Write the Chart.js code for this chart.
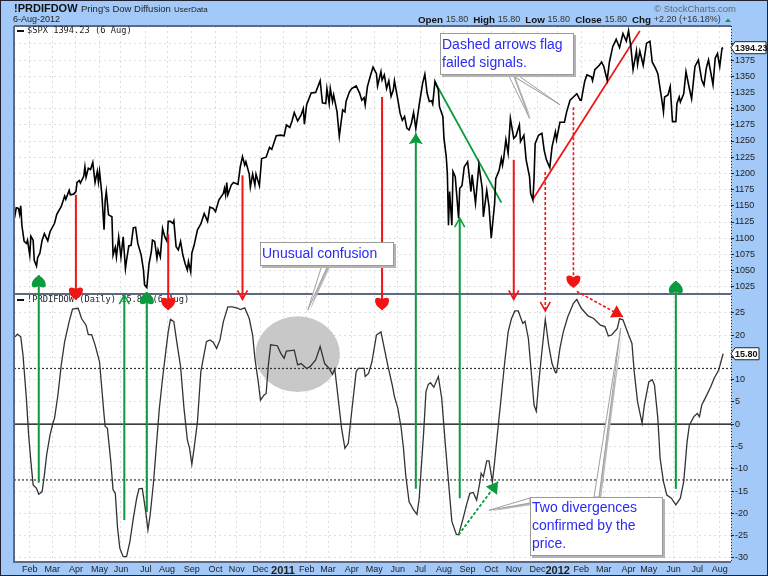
<!DOCTYPE html>
<html lang="en">
<head>
    <meta charset="UTF-8">
    <title>!PRDIFDOW Pring's Dow Diffusion</title>
    <script src="https://cdn.jsdelivr.net/npm/chart.js"></script>
    <style>
        html, body { margin: 0; padding: 0; background: #a3c9f8; }
        canvas { display: block; }
    </style>
</head>
<body>
    <canvas id="myChart" width="768" height="576"></canvas>
<script>
    // session numbers count trading days from the left edge of the chart
    var spxSessions = [0,1,2,4,5,6,7,9,11,12,14,15,17,18,20,21,23,25,27,30,32,36,38,42,45,46,49,50,53,55,56,58,59,62,63,64,66,68,70,72,74,75,76,78,80,81,82,84,87,88,90,91,93,95,97,99,100,102,104,106,108,110,113,115,116,118,120,122,123,125,127,128,130,132,134,136,137,139,141,142,144,146,148,150,152,154,155,157,158,160,
        163,166,169,172,174,177,179,182,186,187,188,189,190,193,195,199,201,203,205,206,209,210,212,214,215,218,220,224,227,229,233,237,240,242,245,247,249,252,255,257,258,260,264,268,272,274,277,278,280,281,283,284,287,289,292,294,295,298,300,304,307,309,311,312,314,317,
        319,322,323,326,327,329,331,333,335,337,338,341,343,345,347,349,351,353,355,357,360,363,365,367,369,371,372,374,377,378,381,382,384,385,386,387,389,390,392,395,396,398,400,403,406,407,410,413,416,417,420,422,424,427,428,431,433,434,435,437,439,441,444,446,449,450,453,455,458,459,461,
        462,463,466,469,471,473,476,478,481,482,485,489,491,494,497,500,503,504,507,509,513,514,516,520,522,524,527,529,532,535,538,541,544,546,548,550,553,554,556,559,562,565,567,570,572,576,577,578,581,583,585,588,589,591,592,595,597,600,602,605,608,611,613,615,617,621,623,625,627,629,630];
    var spxValues = [1146,1137,1147,1146,1137,1150,1120,1095,1092,1097,1074,1103,1097,1066,1057,1070,1077,1097,1107,1096,1110,1123,1137,1149,1165,1160,1174,1167,1168,1172,1186,1189,1185,1196,1210,1194,1208,1206,1217,1186,1203,1187,1203,1169,1113,1158,1172,1136,1133,1074,1086,1071,1102,1071,1102,1053,1066,1088,1089,1116,1117,1092,1074,1051,1028,1024,1061,1079,1097,1095,1069,1082,1071,1115,1102,1095,1126,1126,1123,1127,1087,1082,1095,1074,1061,1051,1064,1048,1077,1089,
        1113,1122,1138,1126,1148,1146,1141,1159,1169,1177,1167,1186,1167,1182,1186,1183,1210,1226,1213,1218,1199,1179,1199,1182,1199,1181,1223,1225,1240,1237,1258,1259,1258,1275,1271,1281,1294,1281,1290,1300,1276,1306,1324,1325,1343,1309,1308,1331,1308,1331,1311,1321,1295,1257,1298,1295,1311,1326,1331,1335,1324,1313,1317,1306,1334,1353,
        1364,1354,1335,1357,1344,1352,1331,1343,1319,1329,1343,1314,1293,1282,1288,1270,1267,1277,1294,1269,1306,1339,1353,1324,1311,1312,1307,1342,1329,1303,1288,1254,1226,1200,1120,1172,1120,1203,1195,1131,1177,1181,1210,1218,1172,1198,1154,1213,1177,1133,1174,1149,1100,1154,1192,1205,1223,1213,1223,1252,1231,1285,1254,1258,1275,1249,1259,1221,1195,1169,1159,
        1192,1246,1259,1262,1236,1221,1209,1241,1264,1252,1279,1279,1295,1313,1318,1323,1313,1313,1342,1352,1349,1343,1360,1367,1372,1365,1344,1372,1396,1407,1394,1416,1404,1420,1396,1360,1389,1368,1389,1367,1401,1404,1372,1362,1354,1308,1295,1318,1321,1334,1280,1280,1308,1318,1310,1323,1357,1331,1315,1365,1375,1344,1336,1362,1375,1337,1378,1385,1365,1393,1394];

    var diffSessions = [1,3,6,8,11,13,15,17,20,22,25,27,29,32,35,36,39,42,45,49,52,57,60,64,66,69,72,76,78,80,81,83,86,88,90,92,94,97,100,103,106,109,111,114,117,119,121,124,127,129,132,135,137,139,142,145,148,151,154,156,158,160,163,166,169,171,174,177,180,183,186,190,194,199,201,205,209,212,214,217,219,222,224,226,228,234,237,240,242,249,252,255,260,263,268,272,276,280,283,285,288,291,294,297,300,304,306,311,312,315,318,322,326,
        329,332,336,338,341,344,346,348,351,355,358,360,362,364,366,368,370,373,377,380,383,386,389,393,395,399,402,405,408,411,414,415,417,420,422,425,427,430,433,436,439,442,445,448,452,454,457,460,462,464,466,469,472,475,478,481,482,485,488,492,497,500,504,510,515,521,525,528,531,536,538,541,546,549,551,554,558,560,564,567,569,572,574,577,580,584,588,592,595,598,600,604,607,609,611,614,619,622,626,630];
    var diffValues = [19.6,20.2,19.6,15.5,5.8,-2.4,-8.4,-13.6,-14.4,-15.7,-15.1,-11.4,-6.9,-2.4,0.6,1.3,6.5,13.3,18.5,23,25.8,26,23.7,22.2,20.1,20.1,17.8,14,8,2.1,-0.5,-0.9,-8.4,-14.7,-15.5,-23.3,-27.8,-29.7,-29.7,-26.3,-21.1,-16.6,-14.5,-14.4,-19.6,-23.7,-20.3,-12.9,-3.2,3.2,10.3,16.6,20.7,23.5,23,17.8,12.9,3.6,-3.5,-5.4,-9,-5.4,0.6,11.8,15.9,18.5,18.9,18.4,17,18.9,23,26.3,26.3,26,25.7,26.1,23.7,20,14.8,9.5,5.4,6.5,6.9,13.3,17.8,17.6,15.9,14.8,16.4,16.6,13.3,13.6,12.5,12.9,14.4,17.4,13.6,12.5,11.2,12.4,5.8,-0.9,-5.4,-4.3,2.8,11.8,12.5,12.5,10.7,11.4,14,20,20.7,
        17,13.3,8.8,6.2,3.6,-0.9,-5.4,-11.4,-17.4,-19.2,-20.2,-16.6,-9.1,-1.6,7.3,8.9,9.3,8.3,10.7,5.8,-3.9,-12.9,-21.8,-24.7,-24.8,-21.1,-18.1,-15.5,-15.3,-17,-12.9,-11,-11.8,-8.2,-8.2,-12.9,-8.4,-0.9,6.5,14,20.7,23.7,25.4,25.4,22.6,23.1,19.2,10.3,4.3,2.9,8.8,16.3,23.5,17.8,13.6,11.6,11.6,17,20.7,24.1,27.1,28,26,24.3,23.7,22.2,21.9,19.8,20,21.5,23.7,23.4,20,18.1,11.8,5,0.2,4.3,9.5,10,8.8,1.3,-7.6,-12.9,-15.9,-16.6,-18.1,-16.6,-12.9,-3.9,-0.2,1.7,2.4,1.7,4.3,5.8,8.4,10.3,12.1,15.80];

    var monthSessions = [14,34,55,76,95,117,136,158,179,198,219,239,260,279,300,320,341,361,382,403,424,444,465,483,504,524,546,564,586,607,627];
    var monthLabels = ['Feb','Mar','Apr','May','Jun','Jul','Aug','Sep','Oct','Nov','Dec','2011','Feb','Mar','Apr','May','Jun','Jul','Aug','Sep','Oct','Nov','Dec','2012','Feb','Mar','Apr','May','Jun','Jul','Aug'];
    var priceTicks = [1025,1050,1075,1100,1125,1150,1175,1200,1225,1250,1275,1300,1325,1350,1375,1400];
    var diffTicks = [-30,-25,-20,-15,-10,-5,0,5,10,15,20,25];

    var thresholdHigh = 12.5;
    var thresholdLow = -12.5;

    // buy signals run from the diffusion panel up to the price panel
    var buySessions = [22,98,118,357,396,588];
    var buyFrom = [-13.1,-21.5,-19.7,-14.5,-16.6,-14.5];
    var buyTo = [1043,1012,1017,1262,1131,1034];
    // sell signals run from the price panel down to the diffusion panel
    var sellSessions = [55,137,203,327,444];
    var sellFrom = [1167,1106,1197,1318,1221];
    var sellTo = [27.9,25.6,28,25.6,28];
    var failedSessions = [472,497];
    var failedFrom = [1202,1302];
    var failedTo = [25.4,30.6];

    // trend lines on the price panel, divergence arrows
    var fallingSessions = [374,433];
    var fallingValues = [1341,1155];
    var risingSessions = [461,556];
    var risingValues = [1160,1420];

    var canvas = document.getElementById('myChart');

    function pts(xs, ys) {
        return xs.map(function (x, i) { return { x: x, y: ys[i] }; });
    }

    var GREEN = '#0b9a3c';
    var RED = '#f01414';
    var buyHeads = ['heart','open','heart','solid','open','heart'];
    var sellHeads = ['heart','heart','open','heart','open'];
    var failedHeads = ['open','heart'];

    function drawHead(ctx, x1, y1, x2, y2, color, head) {
        var a = Math.atan2(y2 - y1, x2 - x1);
        ctx.save();
        ctx.translate(x2, y2);
        ctx.rotate(a);
        ctx.setLineDash([]);
        ctx.strokeStyle = color;
        ctx.fillStyle = color;
        ctx.beginPath();
        if (head == 'open') {
            ctx.lineWidth = 1.6;
            ctx.moveTo(-9, -5);
            ctx.lineTo(0, 0);
            ctx.lineTo(-9, 5);
            ctx.stroke();
        } else if (head == 'solid') {
            ctx.moveTo(0, 0);
            ctx.lineTo(-11, -7);
            ctx.lineTo(-9, 0);
            ctx.lineTo(-11, 7);
            ctx.closePath();
            ctx.fill();
        } else if (head == 'wide') {
            ctx.moveTo(0, 0);
            ctx.lineTo(-11, -7);
            ctx.lineTo(-11, 7);
            ctx.closePath();
            ctx.fill();
        } else {
            ctx.moveTo(0, 0);
            ctx.bezierCurveTo(-3, -5, -6, -7, -10, -7);
            ctx.bezierCurveTo(-13, -7, -13, -2, -10, 0);
            ctx.bezierCurveTo(-13, 2, -13, 7, -10, 7);
            ctx.bezierCurveTo(-6, 7, -3, 5, 0, 0);
            ctx.fill();
        }
        ctx.restore();
    }

    function drawArrow(ctx, x1, y1, x2, y2, color, width, dashed, head) {
        ctx.save();
        ctx.strokeStyle = color;
        ctx.lineWidth = width;
        ctx.setLineDash(dashed ? [3, 2] : []);
        ctx.beginPath();
        ctx.moveTo(x1, y1);
        ctx.lineTo(x2, y2);
        ctx.stroke();
        ctx.restore();
        drawHead(ctx, x1, y1, x2, y2, color, head);
    }

    function drawCallout(ctx, box, lines, tails) {
        ctx.save();
        tails.forEach(function (t) {
            ctx.beginPath();
            ctx.moveTo(t.a[0] + 2, t.a[1] + 2);
            ctx.lineTo(t.tip[0] + 2, t.tip[1] + 1);
            ctx.lineTo(t.b[0] + 2, t.b[1] + 2);
            ctx.closePath();
            ctx.fillStyle = '#b8b8b8';
            ctx.fill();
            ctx.beginPath();
            ctx.moveTo(t.a[0], t.a[1]);
            ctx.lineTo(t.tip[0], t.tip[1]);
            ctx.lineTo(t.b[0], t.b[1]);
            ctx.closePath();
            ctx.fillStyle = '#ffffff';
            ctx.fill();
            ctx.strokeStyle = '#a0a0a0';
            ctx.lineWidth = 1;
            ctx.stroke();
        });
        ctx.fillStyle = '#b4b4b4';
        ctx.fillRect(box.x + 2, box.y + 2, box.w + 1, box.h + 1);
        ctx.fillStyle = '#ffffff';
        ctx.fillRect(box.x, box.y, box.w, box.h);
        ctx.strokeStyle = '#9a9a9a';
        ctx.lineWidth = 1;
        ctx.strokeRect(box.x + 0.5, box.y + 0.5, box.w, box.h);
        ctx.fillStyle = '#2b2bf2';
        ctx.font = '14px "Liberation Sans"';
        ctx.textAlign = 'left';
        ctx.textBaseline = 'middle';
        lines.forEach(function (t, i) {
            ctx.fillText(t, box.x + 2, box.y + box.first + i * box.step);
        });
        ctx.restore();
    }

    function drawBadge(ctx, x, y, w, text) {
        ctx.save();
        ctx.fillStyle = '#ffffff';
        ctx.strokeStyle = '#222222';
        ctx.lineWidth = 1;
        ctx.beginPath();
        ctx.moveTo(x, y);
        ctx.lineTo(x + 4, y - 6);
        ctx.lineTo(x + w, y - 6);
        ctx.lineTo(x + w, y + 6);
        ctx.lineTo(x + 4, y + 6);
        ctx.closePath();
        ctx.fill();
        ctx.stroke();
        ctx.fillStyle = '#111111';
        ctx.font = 'bold 9px "Liberation Sans"';
        ctx.textAlign = 'left';
        ctx.textBaseline = 'middle';
        ctx.fillText(text, x + 4, y + 0.5);
        ctx.restore();
    }

    function headerText(ctx, text, x, y, font, color) {
        ctx.font = font;
        ctx.fillStyle = color;
        ctx.fillText(text, x, y);
        return x + ctx.measureText(text).width;
    }

    var frame = {
        id: 'frame',
        beforeDraw: function (chart) {
            var ctx = chart.ctx, area = chart.chartArea;
            ctx.save();
            ctx.fillStyle = '#a3c9f8';
            ctx.fillRect(0, 0, chart.width, chart.height);
            ctx.fillStyle = '#ffffff';
            ctx.fillRect(area.left, area.top, area.width, area.height);
            ctx.restore();
        },
        beforeDatasetsDraw: function (chart) {
            // grey patch behind the diffusion line
            var ctx = chart.ctx, sx = chart.scales.x, sy = chart.scales.diff;
            var cx = sx.getPixelForValue(252), cy = sy.getPixelForValue(15.7);
            var rx = sx.getPixelForValue(252 + 37.5) - cx;
            var ry = sy.getPixelForValue(15.7 - 8.5) - cy;
            ctx.save();
            ctx.fillStyle = '#c8c8c8';
            ctx.beginPath();
            ctx.ellipse(cx, cy, rx, ry, 0, 0, Math.PI * 2);
            ctx.fill();
            ctx.restore();
        },
        afterDraw: function (chart) {
            var ctx = chart.ctx, area = chart.chartArea;
            var sx = chart.scales.x, price = chart.scales.price, diff = chart.scales.diff;
            var i;

            // panel frame
            ctx.save();
            ctx.strokeStyle = '#5d6885';
            ctx.lineWidth = 2;
            ctx.beginPath();
            ctx.moveTo(area.left, area.top);
            ctx.lineTo(area.right, area.top);
            ctx.moveTo(area.left, area.top);
            ctx.lineTo(area.left, area.bottom);
            ctx.lineTo(area.right, area.bottom);
            ctx.moveTo(area.left, price.bottom);
            ctx.lineTo(area.right, price.bottom);
            ctx.stroke();
            ctx.strokeStyle = '#222222';
            ctx.lineWidth = 1;
            ctx.setLineDash([1, 2]);
            ctx.beginPath();
            ctx.moveTo(area.right + 0.5, area.top);
            ctx.lineTo(area.right + 0.5, area.bottom);
            ctx.stroke();
            ctx.setLineDash([]);
            ctx.strokeStyle = '#222233';
            ctx.strokeRect(0.5, 0.5, chart.width - 1, chart.height - 1);
            ctx.restore();

            // legends inside the panels
            ctx.save();
            ctx.textAlign = 'left';
            ctx.textBaseline = 'middle';
            ctx.fillStyle = '#111111';
            ctx.fillRect(17, 30, 7, 2);
            ctx.fillRect(17, 299, 7, 2);
            ctx.font = '8.7px "DejaVu Sans Mono"';
            ctx.fillStyle = '#222222';
            ctx.fillText('$SPX 1394.23 (6 Aug)', 27, 31);
            ctx.fillText('!PRDIFDOW (Daily) 15.80 (6 Aug)', 27, 300);
            ctx.restore();

            // signal arrows cross the panel boundary
            for (i = 0; i < buySessions.length; i++) {
                drawArrow(ctx, sx.getPixelForValue(buySessions[i]), diff.getPixelForValue(buyFrom[i]),
                    sx.getPixelForValue(buySessions[i]), price.getPixelForValue(buyTo[i]), GREEN, 2, false, buyHeads[i]);
            }
            for (i = 0; i < sellSessions.length; i++) {
                drawArrow(ctx, sx.getPixelForValue(sellSessions[i]), price.getPixelForValue(sellFrom[i]),
                    sx.getPixelForValue(sellSessions[i]), diff.getPixelForValue(sellTo[i]), RED, 2, false, sellHeads[i]);
            }
            for (i = 0; i < failedSessions.length; i++) {
                drawArrow(ctx, sx.getPixelForValue(failedSessions[i]), price.getPixelForValue(failedFrom[i]),
                    sx.getPixelForValue(failedSessions[i]), diff.getPixelForValue(failedTo[i]), RED, 1.6, true, failedHeads[i]);
            }
            drawArrow(ctx, sx.getPixelForValue(500), price.getPixelForValue(1018),
                sx.getPixelForValue(541), diff.getPixelForValue(24.1), RED, 1.6, true, 'wide');
            drawArrow(ctx, sx.getPixelForValue(395), diff.getPixelForValue(-24.8),
                sx.getPixelForValue(430), diff.getPixelForValue(-12.9), GREEN, 1.8, true, 'wide');

            // callouts
            drawCallout(ctx, { x: 260, y: 242, w: 133, h: 23, first: 12, step: 18 }, ['Unusual confusion'],
                [{ a: [322, 265], b: [328, 265], tip: [sx.getPixelForValue(261), diff.getPixelForValue(25.6)] }]);
            drawCallout(ctx, { x: 440, y: 33, w: 133, h: 41, first: 12, step: 18 }, ['Dashed arrows flag', 'failed signals.'],
                [{ a: [508, 74], b: [513, 74], tip: [sx.getPixelForValue(458), price.getPixelForValue(1285)] },
                 { a: [510, 74], b: [516, 74], tip: [sx.getPixelForValue(485), price.getPixelForValue(1306)] }]);
            drawCallout(ctx, { x: 530, y: 497, w: 132, h: 58, first: 11, step: 18 }, ['Two divergences', 'confirmed by the', 'price.'],
                [{ a: [530, 498], b: [530, 503], tip: [sx.getPixelForValue(422), diff.getPixelForValue(-19.3)] },
                 { a: [594, 497], b: [599, 497], tip: [sx.getPixelForValue(539), diff.getPixelForValue(21.5)] }]);

            // last value badges
            drawBadge(ctx, 731, price.getPixelForValue(spxValues[spxValues.length - 1]), 35, '1394.23');
            drawBadge(ctx, 731, diff.getPixelForValue(diffValues[diffValues.length - 1]), 28, '15.80');

            // header
            ctx.save();
            ctx.textAlign = 'left';
            ctx.textBaseline = 'middle';
            headerText(ctx, '!PRDIFDOW', 14, 9, 'bold 11px "Liberation Sans"', '#111111');
            headerText(ctx, "Pring's Dow Diffusion", 81, 9, '9.5px "Liberation Sans"', '#222222');
            headerText(ctx, 'UserData', 174, 9.5, '8px "Liberation Sans"', '#222222');
            headerText(ctx, '6-Aug-2012', 13, 20, '9px "Liberation Sans"', '#222222');
            headerText(ctx, '\u00a9 StockCharts.com', 654, 9, '9.5px "Liberation Sans"', '#666666');
            var x = 418;
            var parts = [['Open', '15.80'], ['High', '15.80'], ['Low', '15.80'], ['Close', '15.80'], ['Chg', '+2.20 (+16.18%)']];
            parts.forEach(function (p) {
                x = headerText(ctx, p[0] + ' ', x, 20, 'bold 9.8px "Liberation Sans"', '#111111');
                x = headerText(ctx, p[1] + '  ', x, 20, '9px "Liberation Sans"', '#333333');
            });
            ctx.fillStyle = GREEN;
            ctx.beginPath();
            ctx.moveTo(725, 22);
            ctx.lineTo(731, 22);
            ctx.lineTo(728, 18.5);
            ctx.closePath();
            ctx.fill();
            ctx.restore();
        }
    };

    function lineSet(data, axis, color, width, dash) {
        return {
            data: data,
            yAxisID: axis,
            borderColor: color,
            borderWidth: width,
            borderDash: dash || [],
            pointRadius: 0,
            tension: 0,
            fill: false
        };
    }

    var gridOpts = { color: '#dedede', lineWidth: 1, tickLength: 3, tickColor: '#222222', tickBorderDash: [] };
    var borderOpts = { display: false, dash: [2, 3] };

    var config = {
        type: 'line',
        plugins: [frame],
        data: {
            datasets: [
                lineSet(pts(spxSessions, spxValues), 'price', '#000000', 1.6),
                lineSet(pts(diffSessions, diffValues), 'diff', '#333333', 1.3),
                lineSet(pts([0, 637], [thresholdHigh, thresholdHigh]), 'diff', '#333333', 1.2, [2, 2]),
                lineSet(pts([0, 637], [thresholdLow, thresholdLow]), 'diff', '#333333', 1.2, [2, 2]),
                lineSet(pts([0, 637], [0, 0]), 'diff', '#000000', 1.2),
                lineSet(pts(fallingSessions, fallingValues), 'price', GREEN, 1.8),
                lineSet(pts(risingSessions, risingValues), 'price', RED, 1.8)
            ]
        },
        options: {
            responsive: false,
            animation: false,
            devicePixelRatio: 1,
            layout: { padding: { left: 14, top: 26, right: 0, bottom: 0 } },
            plugins: { legend: { display: false }, tooltip: { enabled: false }, title: { display: false } },
            scales: {
                x: {
                    type: 'linear',
                    min: 0,
                    max: 637,
                    afterBuildTicks: function (scale) {
                        scale.ticks = monthSessions.map(function (s) { return { value: s }; });
                    },
                    afterFit: function (scale) { scale.height = 14; },
                    grid: { color: '#dedede', drawTicks: false },
                    border: { display: false, dash: [2, 3] },
                    ticks: {
                        autoSkip: false,
                        maxRotation: 0,
                        padding: 2,
                        color: '#222222',
                        font: function (c) {
                            var isYear = c.tick && /^20/.test(c.tick.label);
                            return isYear ? { family: 'Liberation Sans', size: 11, weight: 'bold' }
                                : { family: 'Liberation Sans', size: 9 };
                        },
                        callback: function (v) {
                            return monthLabels[monthSessions.indexOf(v)];
                        }
                    }
                },
                price: {
                    type: 'linear',
                    position: 'right',
                    stack: 'panels',
                    stackWeight: 1,
                    min: 1013.9,
                    max: 1427.5,
                    afterBuildTicks: function (scale) {
                        scale.ticks = priceTicks.map(function (v) { return { value: v }; });
                    },
                    afterFit: function (scale) { scale.width = 37; },
                    grid: gridOpts,
                    border: borderOpts,
                    ticks: {
                        autoSkip: false,
                        padding: 1,
                        color: '#222222',
                        font: { family: 'Liberation Sans', size: 9 },
                        callback: function (v) { return v == 1400 ? '' : v; }
                    }
                },
                diff: {
                    type: 'linear',
                    position: 'right',
                    stack: 'panels',
                    stackWeight: 1,
                    min: -30.9,
                    max: 29.2,
                    afterBuildTicks: function (scale) {
                        scale.ticks = diffTicks.map(function (v) { return { value: v }; });
                    },
                    afterFit: function (scale) { scale.width = 37; },
                    grid: gridOpts,
                    border: borderOpts,
                    ticks: { autoSkip: false, padding: 1, color: '#222222', font: { family: 'Liberation Sans', size: 9 } }
                }
            }
        }
    };

    window.myChart = new Chart(canvas.getContext('2d'), config);
</script>
</body>
</html>
